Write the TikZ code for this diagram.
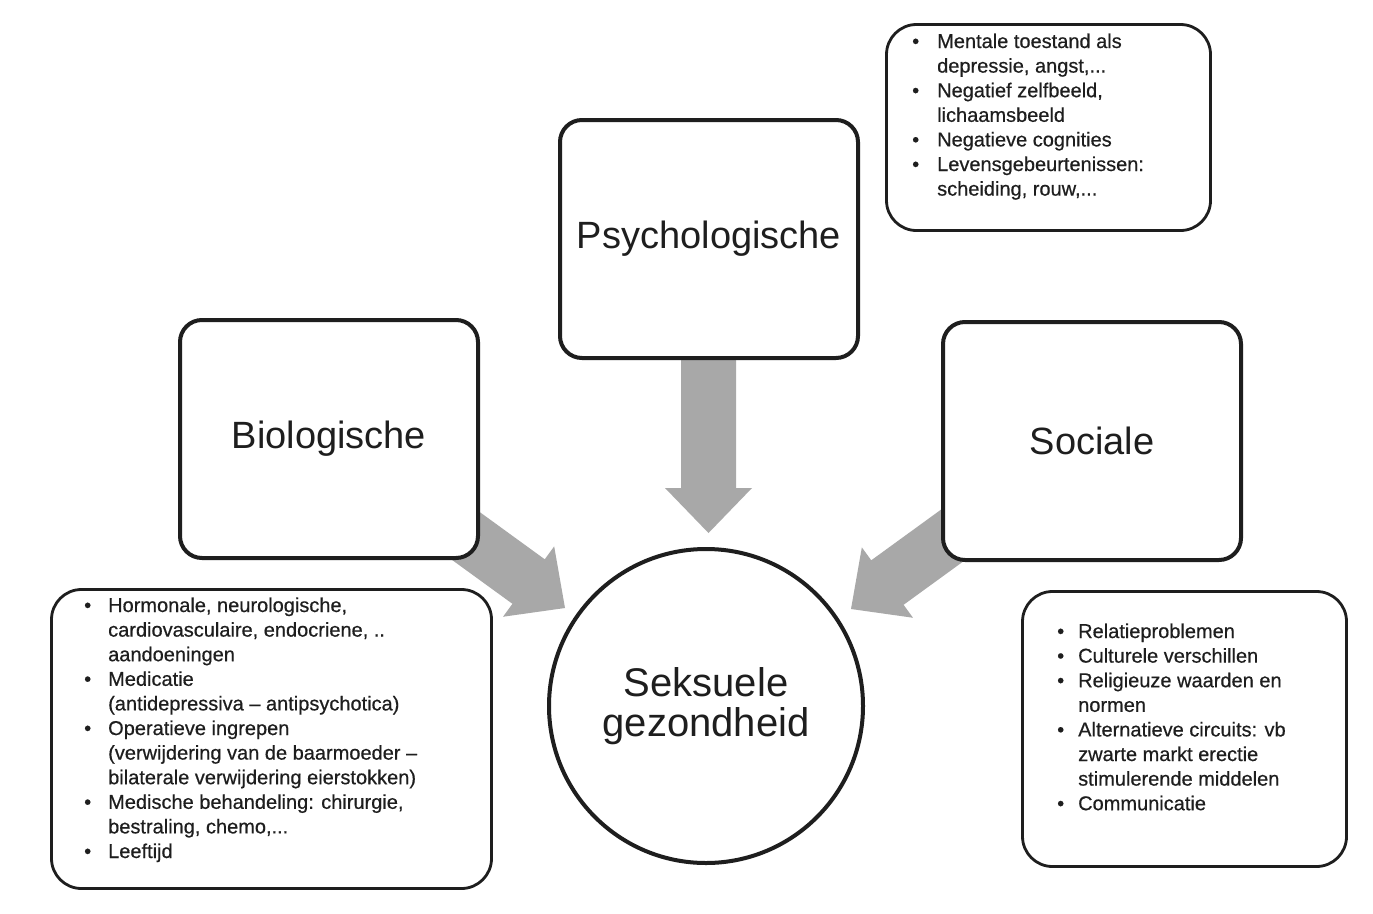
\documentclass[tikz,border=0pt]{standalone}
\usepackage{fontspec}
\setmainfont{Liberation Sans}
\newfontfamily\listfont{Liberation Sans}[FakeBold=0.5]
\usetikzlibrary{backgrounds}
\definecolor{arrowgray}{RGB}{168,168,168}
\definecolor{inkc}{RGB}{30,30,30}
\newcommand\blockarr[3]{%
  \begin{scope}[shift={(#1)}, rotate=#2]
    \fill[arrowgray] (0,0) -- (-45,-43.5) -- (-45,-27.5) -- (-#3,-27.5)
      -- (-#3,27.5) -- (-45,27.5) -- (-45,43.5) -- cycle;
  \end{scope}}
\begin{document}
\begin{tikzpicture}[x=1pt,y=-1pt,
  bigbox/.style={draw=inkc, line width=4pt, rounded corners=22pt, fill=white,
    minimum width=298pt, minimum height=238pt, inner sep=0pt,
    font=\fontsize{38}{44}\selectfont, text=inkc},
  listbox/.style={draw=inkc, line width=2.8pt, rounded corners=30pt, fill=white, inner sep=0pt},
  listtext/.style={anchor=base west, inner sep=0pt, font=\listfont\fontsize{20}{24.6}\selectfont, text=inkc},
  core/.style={circle, draw=inkc, line width=4pt, fill=white, minimum size=314pt,
    inner sep=0pt, align=center, font=\fontsize{40}{40}\selectfont, text=inkc}]
\useasboundingbox (0,0) rectangle (1373,913);

% main nodes
\node[bigbox] (psy) at (709,239) {Psychologische};
\node[bigbox] (bio) at (329,439) {Biologische};
\node[bigbox] (soc) at (1092,441) {Sociale};
\node[core] (sek) at (706,706) {Seksuele\\gezondheid};

% list boxes
\node[listbox, minimum width=324pt, minimum height=206pt] (psylist) at (1048.5,127.5) {};
\node[listtext] (psytxt) at (912,48) {\begin{tabular}[t]{@{}p{25pt}@{}l@{}}
•& Mentale toestand als\\
 & depressie, angst,...\\
•& Negatief zelfbeeld,\\
 & lichaamsbeeld\\
•& Negatieve cognities\\
•& Levensgebeurtenissen:\\
 & scheiding, rouw,...
\end{tabular}};

\node[listbox, minimum width=440pt, minimum height=299pt] (biolist) at (271.5,739) {};
\node[listtext] (biotxt) at (84,612) {\begin{tabular}[t]{@{}p{24pt}@{}l@{}}
•& Hormonale, neurologische,\\
 & cardiovasculaire, endocriene, ..\\
 & aandoeningen\\
•& Medicatie\\
 & (antidepressiva – antipsychotica)\\
•& Operatieve ingrepen\\
 & (verwijdering van de baarmoeder –\\
 & bilaterale verwijdering eierstokken)\\
•& Medische behandeling: chirurgie,\\
 & bestraling, chemo,...\\
•& Leeftijd
\end{tabular}};

\node[listbox, minimum width=324pt, minimum height=275pt] (soclist) at (1184.5,729) {};
\node[listtext] (soctxt) at (1057,638) {\begin{tabular}[t]{@{}p{21pt}@{}l@{}}
•& Relatieproblemen\\
•& Culturele verschillen\\
•& Religieuze waarden en\\
 & normen\\
•& Alternatieve circuits: vb\\
 & zwarte markt erectie\\
 & stimulerende middelen\\
•& Communicatie
\end{tabular}};

% block arrows from the factor boxes to the circle
\coordinate (tipP) at (708.5,533);
\coordinate (tipB) at (565,608);
\coordinate (tipS) at (851,609);
\begin{scope}[on background layer]
  \fill[white] (0,0) rectangle (1373,913);
  \blockarr{tipP}{-90}{190}
  \blockarr{tipB}{-36}{190}
  \blockarr{tipS}{-144}{190}
\end{scope}
\end{tikzpicture}
\end{document}
